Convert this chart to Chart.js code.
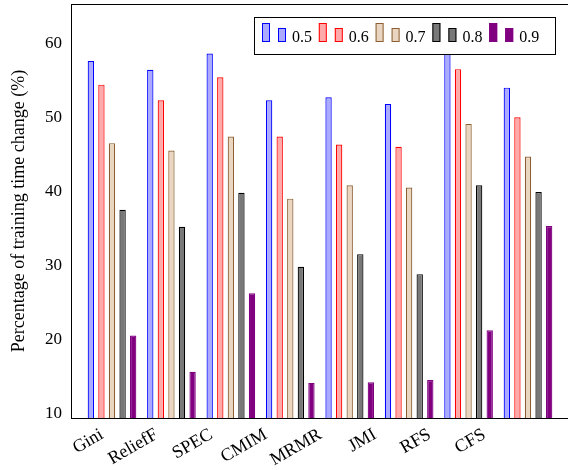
<!DOCTYPE html>
<html><head><meta charset="utf-8">
<script src="https://cdn.jsdelivr.net/npm/chart.js@4/dist/chart.umd.min.js"></script>
<style>html,body{margin:0;padding:0;background:#fff;overflow:hidden;width:568px;height:470px}
#wrap{position:relative;width:580px;height:470px}</style></head>
<body><div id="wrap"><canvas id="c" width="580" height="470"></canvas></div>
<script>
const categories = ['Gini','ReliefF','SPEC','CMIM','MRMR','JMI','RFS','CFS'];
const seriesLabels = ['0.5','0.6','0.7','0.8','0.9'];
const s05 = [57.7,56.5,58.7,52.4,52.8,51.9,59.0,54.1];
const s06 = [54.5,52.4,55.5,47.5,46.4,46.1,56.6,50.1];
const s07 = [46.6,45.6,47.5,39.1,40.9,40.6,49.2,44.8];
const s08 = [37.6,35.3,39.9,29.9,31.6,28.9,40.9,40.0];
const s09 = [20.6,15.7,26.3,14.2,14.3,14.6,21.3,35.4];
const yTicks = [10,20,30,40,50,60];

const fills = ['rgb(170,170,255)','rgb(255,170,170)','rgb(234,214,192)','rgb(120,120,120)','rgb(128,0,128)'];
const borders = ['rgb(0,0,255)','rgb(255,0,0)','rgb(140,95,50)','rgb(0,0,0)','rgb(128,0,128)'];
const FONT = "'Liberation Serif', 'DejaVu Serif', serif";
const allSeries = [s05,s06,s07,s08,s09];

const datasets = allSeries.map((s,k)=>({
  label: seriesLabels[k],
  data: s.map((v,i)=>({x:i,y:v})),
  xAxisID:'x',
  backgroundColor: fills[k],
  borderColor: borders[k],
  borderWidth: 1.2,
  categoryPercentage: 0.89,
  barPercentage: 0.6
}));

const zeroPad = s => { s.paddingLeft = 0; s.paddingRight = 0; s.paddingTop = 0; s.paddingBottom = 0; };

const framePlugin = {
  id:'frame',
  afterDraw(chart){
    const {ctx, chartArea:a} = chart;
    ctx.save();
    ctx.strokeStyle = '#000'; ctx.lineWidth = 1;
    ctx.strokeRect(Math.round(a.left)+0.5, Math.round(a.top)+0.5, Math.round(a.right-a.left), Math.round(a.bottom-a.top));
    // legend
    const bx=254, by=17, bw=301, bh=37;
    ctx.fillStyle='#fff'; ctx.fillRect(bx,by,bw,bh);
    ctx.strokeStyle='#000'; ctx.strokeRect(bx+0.5,by+0.5,bw,bh);
    ctx.font = '16px ' + FONT;
    ctx.textBaseline='alphabetic';
    chart.data.datasets.forEach((d,k)=>{
      const x0 = 262 + k*56.8;
      ctx.fillStyle=d.backgroundColor; ctx.strokeStyle=d.borderColor; ctx.lineWidth=1;
      ctx.fillRect(x0,23,8,19); ctx.strokeRect(x0+0.5,23.5,7,18);
      ctx.fillRect(x0+16,28,8,14); ctx.strokeRect(x0+16.5,28.5,7,13);
      ctx.fillStyle='#000';
      ctx.fillText(d.label, x0+30, 42);
    });
    ctx.restore();
  }
};

new Chart(document.getElementById('c'), {
  type:'bar',
  data:{datasets},
  options:{
    responsive:false, animation:false,
    layout:{padding:{top:4,right:11,left:0,bottom:0}},
    plugins:{legend:{display:false}, tooltip:{enabled:false}},
    scales:{
      x:{type:'linear', min:-0.69, max:7.69, offset:false, display:false,
        afterBuildTicks:s=>{s.ticks = categories.map((c,i)=>({value:i}));}
      },
      xl:{type:'linear', position:'bottom', min:-0.751, max:8.37, offset:false,
        grid:{display:false, drawTicks:false}, border:{display:false},
        afterBuildTicks:s=>{s.ticks = categories.map((c,i)=>({value:i}));},
        afterFit:s=>{s.height=52; zeroPad(s);},
        ticks:{autoSkip:false, minRotation:30, maxRotation:30, padding:6, labelOffset:-10,
          color:'#000', font:{family:FONT, size:18},
          callback:v=>categories[v]}
      },
      y:{type:'linear', min:9.46, max:65.4,
        grid:{display:false, drawTicks:false}, border:{display:false},
        afterBuildTicks:s=>{s.ticks = yTicks.map(v=>({value:v}));},
        afterFit:s=>{s.width=71; zeroPad(s);},
        ticks:{padding:9, color:'#000', font:{family:FONT, size:17}},
        title:{display:true, text:'Percentage of training time change (%)', color:'#000',
          font:{family:FONT, size:18}, padding:{top:8,bottom:0}}
      }
    }
  },
  plugins:[framePlugin]
});
</script></body></html>
